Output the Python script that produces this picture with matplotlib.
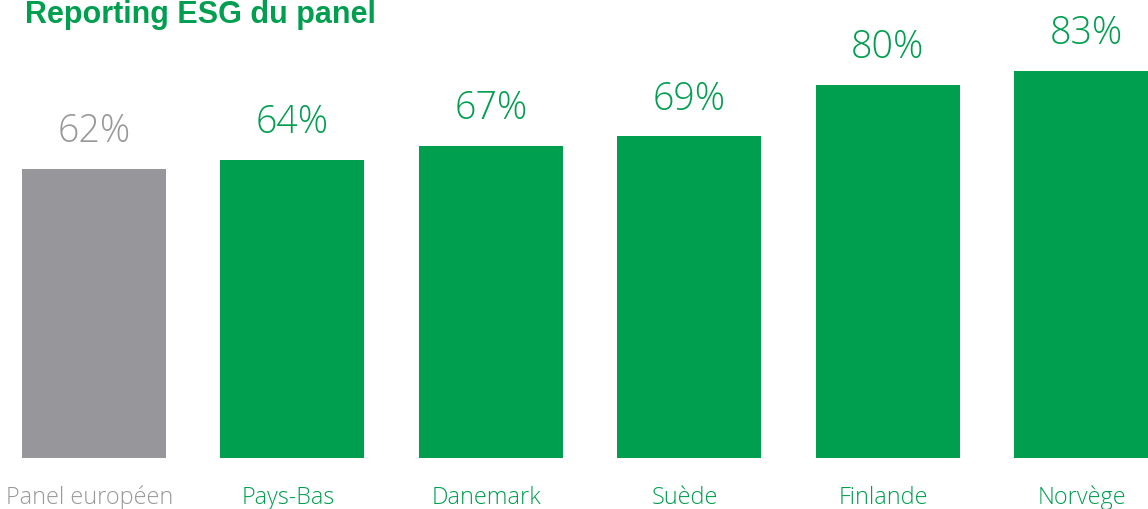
"""Bar chart: share of panel companies publishing ESG reporting, by country."""

import matplotlib

matplotlib.use("Agg")
import matplotlib.pyplot as plt

GREEN = "#009e4f"
GREY = "#97979b"
GREY_TEXT = "#98989a"

categories = ["Panel européen", "Pays-Bas", "Danemark", "Suède", "Finlande", "Norvège"]
values = [62, 64, 67, 69, 80, 83]
value_labels = ["62%", "64%", "67%", "69%", "80%", "83%"]
is_benchmark = [True, False, False, False, False, False]

W, H = 1148, 509
fig = plt.figure(figsize=(W / 100, H / 100), dpi=100)
ax = fig.add_axes([0, 0, 1, 1])

# pixel geometry -> data limits
step_px, x0_px = 198.4, 94
base_px, unit_px = 458, 4.66
ax.set_xlim(-x0_px / step_px, (W - x0_px) / step_px)
ax.set_ylim(-(H - base_px) / unit_px, base_px / unit_px)
ax.axis("off")

light = dict(family=["Open Sans", "Liberation Sans", "DejaVu Sans"], weight="light")

for i, (cat, val, lab, bench) in enumerate(zip(categories, values, value_labels, is_benchmark)):
    bar_col = GREY if bench else GREEN
    txt_col = GREY_TEXT if bench else GREEN
    ax.bar(i, val, width=144 / step_px, color=bar_col, linewidth=0)
    ax.annotate(lab, (i, val), xytext=(0, 19.4), textcoords="offset points",
                ha="center", va="baseline", fontsize=27, color=txt_col, **light)
    ax.text(i - 0.02, -(504 - base_px) / unit_px, cat, ha="center", va="baseline",
            fontsize=16.8, color=txt_col, **light)

fig.text(25 / W, 1 - 23 / H, "Reporting ESG du panel", ha="left", va="baseline",
         fontsize=22, fontweight="bold", color=GREEN,
         family=["Liberation Sans", "DejaVu Sans"])

fig.savefig("out.png", dpi=100)
